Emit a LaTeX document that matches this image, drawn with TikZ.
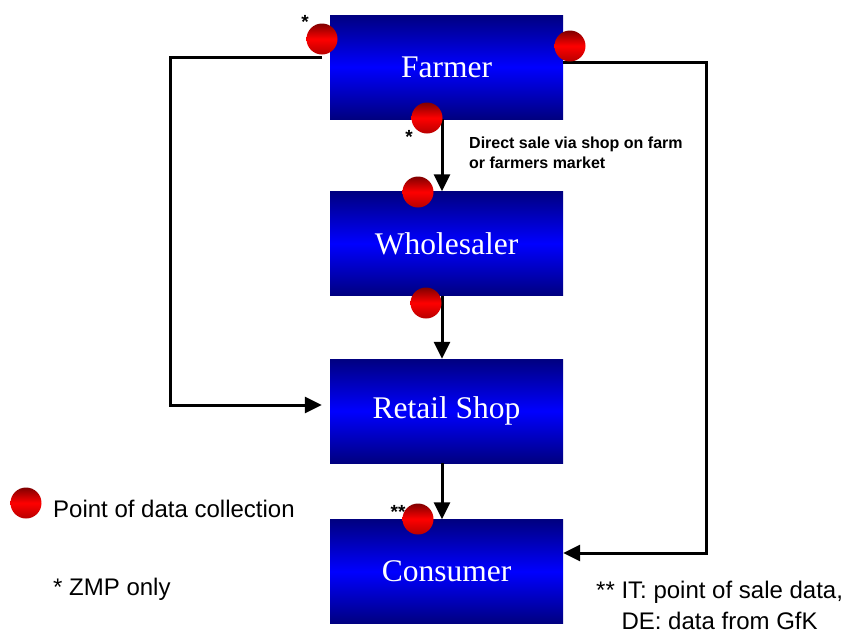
\documentclass[tikz,border=0pt]{standalone}
\usepackage{fontspec}
\setmainfont{Liberation Serif}
\newfontfamily\arialfont{Liberation Sans}
\usetikzlibrary{arrows.meta,calc}
\definecolor{navyb}{RGB}{0,0,128}
\definecolor{brightb}{RGB}{0,0,255}
\definecolor{darkred}{RGB}{128,0,0}
\definecolor{midred}{RGB}{255,0,0}
\tikzset{
  actor/.style={rectangle, minimum width=233pt, minimum height=104pt, inner sep=0pt,
    shading=axis, top color=navyb, bottom color=navyb, middle color=brightb,
    text=white, font=\fontsize{31.5}{34}\selectfont},
  ball/.style={circle, minimum size=31pt, inner sep=0pt,
    shading=axis, top color=darkred, bottom color=red!72!black, middle color=midred},
  conn/.style={line width=3pt, -{Triangle[length=17pt,width=16pt]}},
  note/.style={font=\arialfont\fontsize{24}{26}\selectfont, align=left, inner sep=0pt},
  star/.style={font=\arialfont\bfseries\fontsize{19}{19}\selectfont, inner sep=0pt}
}
\begin{document}
\begin{tikzpicture}[x=1pt,y=-1pt]
\useasboundingbox (0,0) rectangle (846,633);
% boxes
\node[actor] (farmer) at (446.5,67) {\raisebox{-3pt}{Farmer}};
\node[actor] (wholesaler) at (446.5,243.5) {Wholesaler};
\node[actor] (retail) at (446.5,411) {Retail Shop};
\node[actor] (consumer) at (446.5,571.5) {Consumer};
% connectors
\coordinate (lstart) at (322,57);
\coordinate (lcorner) at (170,57);
\coordinate (rin) at (retail.west |- 0,405);
\draw[conn, shorten >=8pt] (lstart) -- (lcorner) |- (rin);
\coordinate (rstart) at (farmer.east |- 0,62);
\coordinate (rcorner) at (706,62);
\coordinate (cin) at (consumer.east |- 0,553);
\draw[conn] (rstart) -- (rcorner) |- (cin);
\coordinate (fw) at (442,119);
\draw[conn] (farmer.south -| fw) -- (wholesaler.north -| fw);
\draw[conn] (wholesaler.south -| fw) -- (retail.north -| fw);
\draw[conn] (retail.south -| fw) -- (consumer.north -| fw);
% balls
\node[ball] (b1) at (322,39) {};
\node[ball] (b2) at (570,46) {};
\node[ball] (b3) at (427,118) {};
\node[ball] (b4) at (418,192) {};
\node[ball] (b5) at (426,303) {};
\node[ball] (b6) at (418,519) {};
\node[ball] (b7) at (26,503) {};
% asterisks
\node[star] (s1) at (305,22) {*};
\node[star] (s2) at (409,137) {*};
\node[star] (s3) at (398,512) {**};
% labels
\node[font=\arialfont\bfseries\fontsize{16}{20}\selectfont, align=left, anchor=west, inner sep=0pt] (direct) at (469,153) {Direct sale via shop on farm\\or farmers market};
\node[note, anchor=base west] (legend) at (53,517) {Point of data collection};
\node[note, anchor=base west] (zmp) at (53,595) {* ZMP only};
\node[note, anchor=west, font=\arialfont\fontsize{24}{31}\selectfont] (itde) at (596,605) {** IT: point of sale data,\\\phantom{** }DE: data from GfK};
\end{tikzpicture}
\end{document}
